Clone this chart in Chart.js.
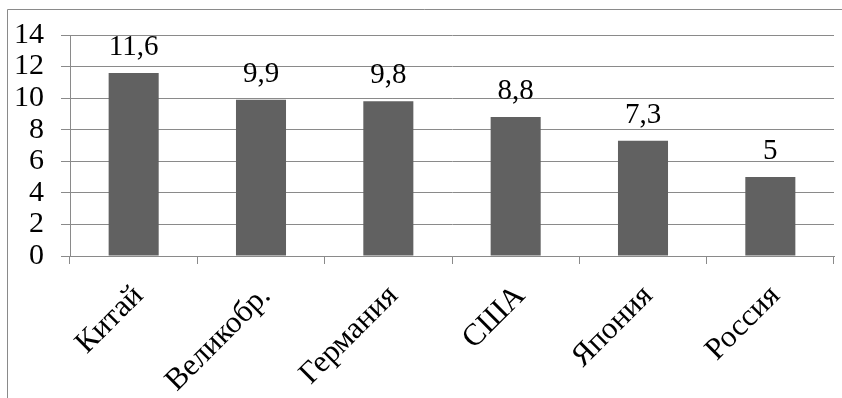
<!DOCTYPE html>
<html>
<head>
<meta charset="utf-8">
<script src="https://cdn.jsdelivr.net/npm/chart.js@4/dist/chart.umd.min.js"></script>
<style>
  html, body { margin: 0; padding: 0; background: #fff; }
  #wrap { width: 842px; height: 398px; position: relative; }
</style>
</head>
<body>
<div id="wrap"><canvas id="c" width="842" height="398"></canvas></div>
<script>
const countries = ['Китай', 'Великобр.', 'Германия', 'США', 'Япония', 'Россия'];
const values = [11.6, 9.9, 9.8, 8.8, 7.3, 5];
const yTicks = [0, 2, 4, 6, 8, 10, 12, 14];

const FONT = "'Liberation Serif', 'Times New Roman', serif";
const GRID = '#8a8a8a';

// value labels over each bar, placed through the y scale
const valueLabels = {
  id: 'valueLabels',
  afterDatasetsDraw(chart) {
    const { ctx } = chart;
    const meta = chart.getDatasetMeta(0);
    ctx.save();
    ctx.font = '29px ' + FONT;
    ctx.fillStyle = '#000';
    ctx.textAlign = 'center';
    ctx.textBaseline = 'alphabetic';
    meta.data.forEach((bar, i) => {
      const label = String(values[i]).replace('.', ',');
      ctx.fillText(label, bar.x, bar.y - 18);
    });
    ctx.restore();
  }
};

// thin frame along the left and top edges of the figure
const frame = {
  id: 'frame',
  beforeDraw(chart) {
    const { ctx } = chart;
    ctx.save();
    ctx.strokeStyle = GRID;
    ctx.lineWidth = 1;
    ctx.beginPath();
    ctx.moveTo(7.5, 398);
    ctx.lineTo(7.5, 9.5);
    ctx.lineTo(842, 9.5);
    ctx.stroke();
    ctx.restore();
  }
};

new Chart(document.getElementById('c'), {
  type: 'bar',
  data: {
    labels: countries,
    datasets: [{
      data: values,
      backgroundColor: '#616161',
      borderWidth: 0,
      categoryPercentage: 1,
      barPercentage: 0.393
    }]
  },
  options: {
    responsive: false,
    animation: false,
    devicePixelRatio: 1,
    layout: { padding: { left: 0, top: 32, right: 8, bottom: 0 } },
    plugins: { legend: { display: false }, tooltip: { enabled: false } },
    scales: {
      x: {
        grid: { display: true, offset: true, drawOnChartArea: false, drawTicks: true, tickLength: 8, color: GRID, lineWidth: 1 },
        border: { display: true, color: GRID, width: 1 },
        ticks: {
          color: '#000',
          font: { family: FONT, size: 31 },
          minRotation: 45,
          maxRotation: 45,
          padding: 14,
          labelOffset: 5,
          autoSkip: false
        },
        afterFit(scale) { scale.height = 142; }
      },
      y: {
        min: 0,
        max: 14,
        afterBuildTicks(scale) { scale.ticks = yTicks.map(v => ({ value: v })); },
        grid: { color: GRID, lineWidth: 1, drawTicks: true, tickLength: 9 },
        border: { display: true, color: GRID, width: 1 },
        ticks: {
          color: '#000',
          font: { family: FONT, size: 30 },
          padding: 17,
          autoSkip: false
        },
        afterFit(scale) { scale.width = 70; }
      }
    }
  },
  plugins: [frame, valueLabels]
});
</script>
</body>
</html>
